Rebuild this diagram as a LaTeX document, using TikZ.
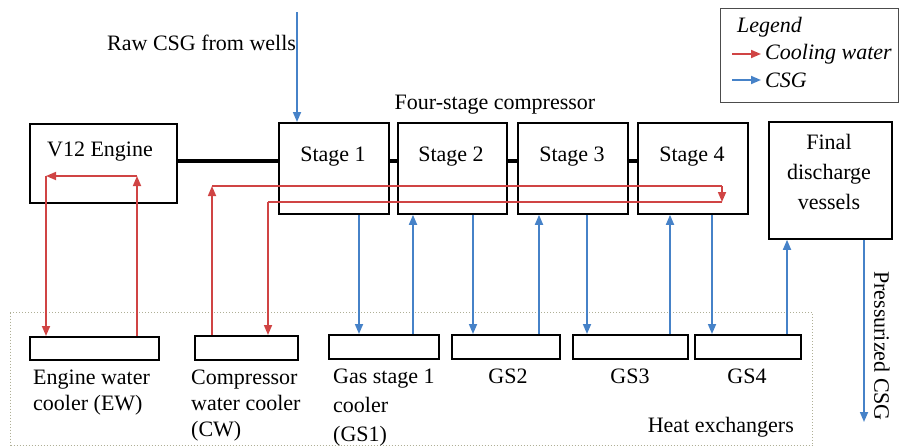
\documentclass[tikz,border=0pt]{standalone}
\usepackage{fontspec}
\setmainfont{Liberation Serif}
\usetikzlibrary{arrows.meta}
\definecolor{cwred}{RGB}{208,68,68}
\definecolor{gasblue}{RGB}{70,130,200}
\definecolor{hxgray}{RGB}{175,175,150}
\begin{document}
\begin{tikzpicture}[x=1pt,y=-1pt,
  box/.style={draw, line width=1.8pt, inner sep=0pt, anchor=north west},
  lbl/.style={font=\fontsize{22}{26}\selectfont, inner sep=0pt},
  tip/.style={-{Triangle[length=10pt,width=8pt]}},
  water/.style={draw=cwred, line width=1.7pt},
  gas/.style={draw=gasblue, line width=1.7pt},
  shaft/.style={line width=4pt}]
\useasboundingbox (0,0) rectangle (899,447);

% heat exchanger region
\node[draw=hxgray, dotted, line width=1pt, inner sep=0pt, anchor=north west,
      minimum width=802pt, minimum height=133pt] (hx) at (10,312) {};
\node[lbl, anchor=base east] (hxt) at (794,432) {Heat exchangers};

% legend
\node[draw=black!70, line width=0.8pt, inner sep=0pt, anchor=north west,
      minimum width=178pt, minimum height=94pt] (leg) at (720,8) {};
\node[lbl, anchor=base west, font=\fontsize{22}{26}\selectfont\itshape] (legt) at (737,32) {Legend};
\node[lbl, anchor=base west, font=\fontsize{22}{26}\selectfont\itshape] (legw) at (765,59) {Cooling water};
\node[lbl, anchor=base west, font=\fontsize{22}{26}\selectfont\itshape] (legg) at (765,87) {CSG};
\coordinate (lw0) at (732,54);
\coordinate (lg0) at (732,80);
\coordinate (lw1) at (761,54);
\coordinate (lg1) at (761,80);
\draw[water, tip] (lw0) -- (lw1);
\draw[gas, tip] (lg0) -- (lg1);

% main boxes
\node[box, minimum width=147pt, minimum height=79pt] (eng) at (29,123) {};
\node[box, minimum width=110pt, minimum height=91pt] (s1) at (278,122) {};
\node[box, minimum width=109pt, minimum height=91pt] (s2) at (397,122) {};
\node[box, minimum width=110pt, minimum height=91pt] (s3) at (517,122) {};
\node[box, minimum width=110pt, minimum height=91pt] (s4) at (637,122) {};
\node[box, minimum width=123pt, minimum height=117pt] (fd) at (768,121) {};

\node[lbl] (teng) at (100,152) {V12 Engine};
\node[lbl] (ts1) at (333,157) {Stage 1};
\node[lbl] (ts2) at (451,157) {Stage 2};
\node[lbl] (ts3) at (572,157) {Stage 3};
\node[lbl] (ts4) at (692,157) {Stage 4};
\node[lbl, align=center, font=\fontsize{22}{30}\selectfont] (tfd) at (829,172) {Final\\discharge\\vessels};
\node[lbl] (tfour) at (495,105) {Four-stage compressor};
\node[lbl, anchor=west] (traw) at (107,43) {Raw CSG from wells};

% heat exchanger boxes
\node[box, minimum width=129pt, minimum height=23pt] (ew) at (29,336) {};
\node[box, minimum width=103pt, minimum height=24pt] (cwb) at (194,335) {};
\node[box, minimum width=110pt, minimum height=24pt] (g1) at (328,334) {};
\node[box, minimum width=108pt, minimum height=24pt] (g2) at (451,334) {};
\node[box, minimum width=115pt, minimum height=24pt] (g3) at (572,334) {};
\node[box, minimum width=106pt, minimum height=24pt] (g4) at (694,334) {};

\node[lbl, align=left, anchor=north west] (tew) at (33,370) {Engine water\\cooler (EW)};
\node[lbl, align=left, anchor=north west] (tcw) at (191,370) {Compressor\\water cooler\\(CW)};
\node[lbl, align=left, anchor=north west, font=\fontsize{22}{29}\selectfont] (tg1) at (333,369) {Gas stage 1\\cooler\\(GS1)};
\node[lbl, anchor=base] (tg2) at (508,383) {GS2};
\node[lbl, anchor=base] (tg3) at (630,383) {GS3};
\node[lbl, anchor=base] (tg4) at (747,383) {GS4};
\node[lbl, rotate=-90] (tpress) at (882,346) {Pressurized CSG};

% drive shaft
\coordinate (ys) at (0,161);
\draw[shaft] (eng.east |- ys) -- (s1.west |- ys);
\draw[shaft] (s1.east |- ys) -- (s2.west |- ys);
\draw[shaft] (s2.east |- ys) -- (s3.west |- ys);
\draw[shaft] (s3.east |- ys) -- (s4.west |- ys);

% cooling water: engine loop
\coordinate (eR) at (137,176);
\coordinate (eL) at (46,176);
\draw[water, tip] (eR |- ew.north) -- (eR);
\draw[water, tip] (eR) -- (eL);
\draw[water, tip] (eL) -- (eL |- ew.north);

% cooling water: compressor loop
\coordinate (cA) at (212,186);
\coordinate (cR1) at (722,186);
\coordinate (cR2) at (722,202);
\coordinate (cB) at (268,202);
\draw[water, tip] (cA |- cwb.north) -- (cA);
\draw[water] (cA) -- (cR1);
\draw[water, tip] (cR1) -- (cR2);
\draw[water] (cR2) -- (cB);
\draw[water, tip] (cB) -- (cB |- cwb.north);

% gas path
\coordinate (raw) at (297,12);
\coordinate (x1) at (359,0);
\coordinate (x2) at (413,0);
\coordinate (x3) at (473,0);
\coordinate (x4) at (539,0);
\coordinate (x5) at (587,0);
\coordinate (x6) at (670,0);
\coordinate (x7) at (712,0);
\coordinate (x8) at (787,0);
\coordinate (out) at (864,422);
\draw[gas, tip] (raw) -- (raw |- s1.north);
\draw[gas, tip] (x1 |- s1.south) -- (x1 |- g1.north);
\draw[gas, tip] (x2 |- g1.north) -- (x2 |- s2.south);
\draw[gas, tip] (x3 |- s2.south) -- (x3 |- g2.north);
\draw[gas, tip] (x4 |- g2.north) -- (x4 |- s3.south);
\draw[gas, tip] (x5 |- s3.south) -- (x5 |- g3.north);
\draw[gas, tip] (x6 |- g3.north) -- (x6 |- s4.south);
\draw[gas, tip] (x7 |- s4.south) -- (x7 |- g4.north);
\draw[gas, tip] (x8 |- g4.north) -- (x8 |- fd.south);
\draw[gas, tip] (out |- fd.south) -- (out);
\end{tikzpicture}
\end{document}
